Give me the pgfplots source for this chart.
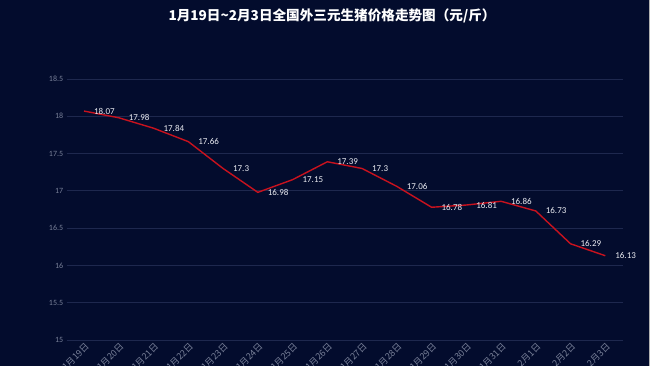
\documentclass[border=0pt]{standalone}
\usepackage{pgfplots}
\pgfplotsset{compat=1.18}
\usepackage{fontspec}
\setmainfont{Carlito}
\newfontfamily\cjk{Noto Sans CJK SC}
\definecolor{bg}{RGB}{3,12,45}
\definecolor{gridc}{RGB}{30,40,78}
\definecolor{tickc}{RGB}{120,128,152}
\definecolor{linec}{RGB}{200,18,30}
\definecolor{lblc}{RGB}{235,236,242}
\begin{document}
\begin{tikzpicture}[x=1pt,y=1pt]
\path[use as bounding box] (0,0) rectangle (650,366);
\clip (0,0) rectangle (650,366);
\fill[bg] (0,0) rectangle (650,366);
\begin{axis}[
  at={(66.7pt,26pt)}, anchor=south west,
  scale only axis, width=556pt, height=261pt,
  xmin=-0.5, xmax=15.5, ymin=15, ymax=18.5,
  ytick={15,15.5,...,18.5},
  xtick={0,...,15},
  xticklabels={1月19日,1月20日,1月21日,1月22日,1月23日,1月24日,1月25日,1月26日,1月27日,1月28日,1月29日,1月30日,1月31日,2月1日,2月2日,2月3日},
  xticklabel style={rotate=45, anchor=east, xshift=2pt, yshift=-6pt, font=\cjk\fontsize{9}{10}\selectfont, text=tickc},
  yticklabel style={font=\fontsize{8}{9}\selectfont, text=tickc},
  /pgf/number format/assume math mode=true,
  axis line style={draw=none},
  major tick length=0pt,
  ymajorgrids, grid style={gridc, line width=0.8pt},
  nodes near coords={\pgfmathprintnumber{\pgfplotspointmeta}},
  every node near coord/.style={anchor=west, xshift=6pt, font=\fontsize{9}{10}\selectfont, text=lblc},
  clip=false,
]
\addplot[linec, line width=1.4pt, mark=none] coordinates {
(0,18.07) (1,17.98) (2,17.84) (3,17.66) (4,17.3) (5,16.98) (6,17.15) (7,17.39)
(8,17.3) (9,17.06) (10,16.78) (11,16.81) (12,16.86) (13,16.73) (14,16.29) (15,16.13)};
\end{axis}
\node[text=white, font=\cjk\bfseries\fontsize{13.6}{16}\selectfont] at (332,350.5) {1月19日\textasciitilde2月3日全国外三元生猪价格走势图（元/斤）};
\draw[gray!60, line width=1.5pt] (649.25,0) -- (649.25,366);
\end{tikzpicture}
\end{document}
